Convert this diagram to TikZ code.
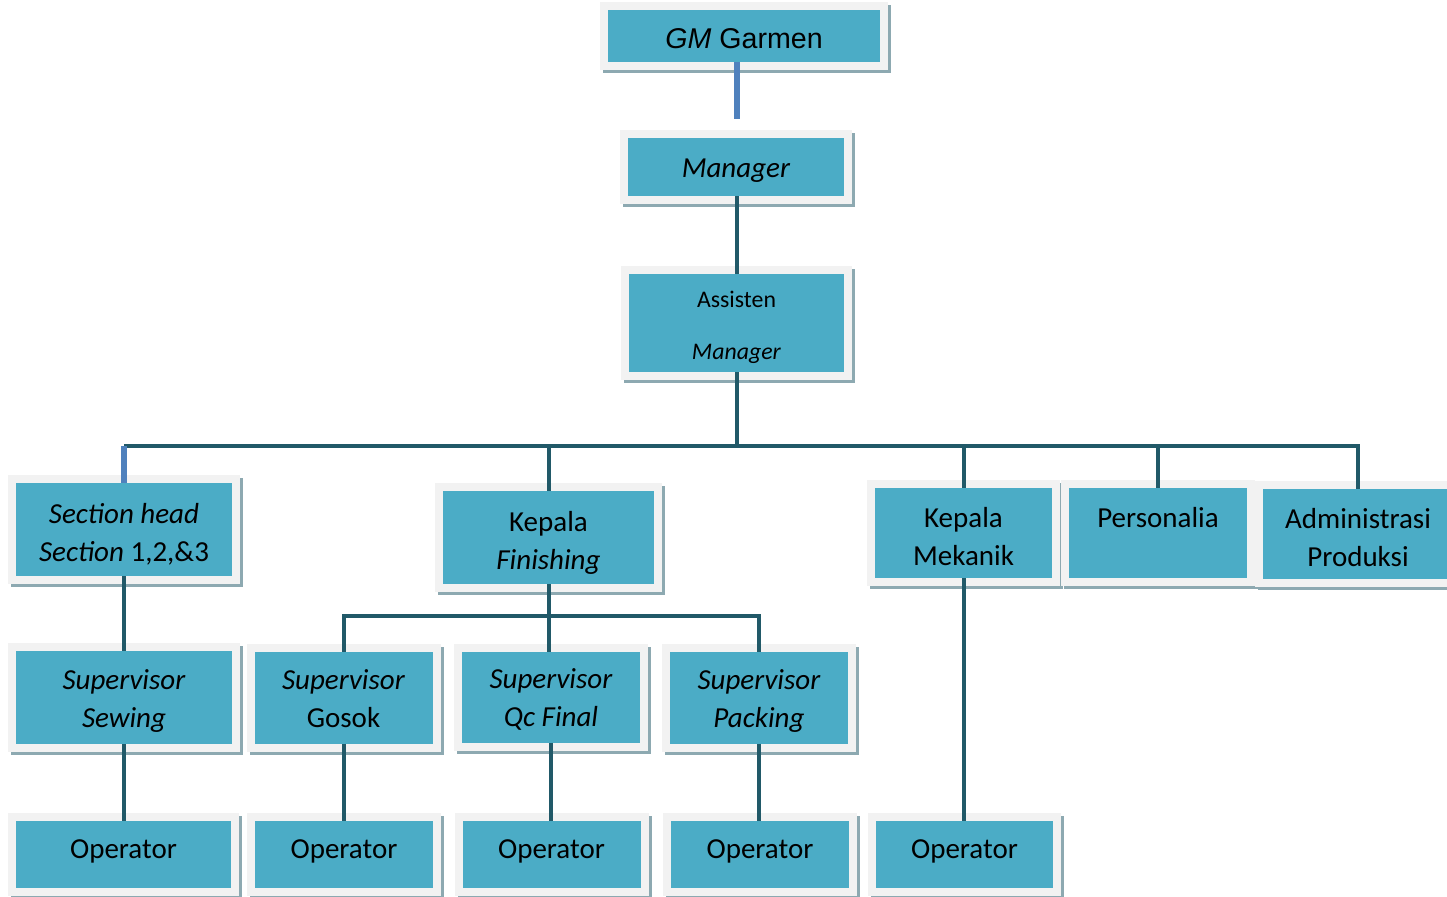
\documentclass[tikz,border=0pt]{standalone}
\usepackage{fontspec}
\setmainfont{Carlito}
\newfontfamily\arialfont{Liberation Sans}
\usepackage{tikz}
\usetikzlibrary{positioning, calc}
\definecolor{boxfill}{HTML}{4BACC6}
\definecolor{boxframe}{HTML}{F2F2F2}
\definecolor{boxshadow}{HTML}{8DA9B1}
\definecolor{linkteal}{HTML}{215968}
\definecolor{linkblue}{HTML}{4F81BD}
\tikzset{
    unit/.style 2 args={draw=boxframe, fill=boxfill, line width=4pt,
      minimum width=#1, minimum height=#2, inner sep=0pt, outer sep=-2pt,
      align=center, font=\fontsize{14.5}{19}\selectfont,
      preaction={draw=boxshadow, fill=boxshadow, transform canvas={shift={(1.5pt,-1.5pt)}}}},
    tx/.style 2 args={text height=#1, text depth=#2},
    link/.style={draw=linkteal, line width=2pt},
    bluelink/.style={draw=linkblue, line width=3pt},
}

\begin{document}
\begin{tikzpicture}[x=0.5pt, y=-0.5pt]
    \useasboundingbox (0,0) rectangle (1447,896);

    \node[unit={140pt}{30pt}, tx={12.2pt}{0pt}, font=\arialfont\fontsize{14.3}{17}\selectfont] (gm) at (744,36) {\textit{GM} Garmen};
    \node[unit={112pt}{33pt}, tx={13.6pt}{3.5pt}] (mgr) at (736,167) {\textit{Manager}};
    \node[unit={111.5pt}{53pt}, tx={39.5pt}{2.8pt}, font=\fontsize{11.9}{26}\selectfont] (asst) at (736.5,323) {Assisten\\\textit{Manager}};

    \node[unit={112pt}{50.5pt}, tx={32pt}{0pt}] (sec) at (124,529.5) {\textit{Section head}\\\textit{Section} 1,2,\&3};
    \node[unit={109.5pt}{50.5pt}, tx={32pt}{0pt}] (kfin) at (548.5,537.5) {Kepala\\\textit{Finishing}};
    \node[unit={92.5pt}{49pt}, tx={32pt}{0pt}] (kmek) at (963.5,533) {Kepala\\Mekanik};
    \node[unit={93pt}{49pt}, tx={32pt}{0pt}] (pers) at (1158,533) {Personalia\\\phantom{X}};
    \node[unit={99pt}{49pt}, tx={32pt}{0pt}] (adm) at (1358,534) {Administrasi\\Produksi};

    \node[unit={112pt}{50.5pt}, tx={32pt}{2.4pt}] (sws) at (124,697.5) {\textit{Supervisor}\\\textit{Sewing}};
    \node[unit={93pt}{50pt}, tx={32pt}{2.4pt}] (sgo) at (343.5,697.5) {\textit{Supervisor}\\Gosok};
    \node[unit={93pt}{49.5pt}, tx={32pt}{2.4pt}] (sqc) at (551,697) {\textit{Supervisor}\\\textit{Qc Final}};
    \node[unit={93pt}{50pt}, tx={32pt}{2.4pt}] (spk) at (759,697.5) {\textit{Supervisor}\\\textit{Packing}};

    \node[unit={111.5pt}{37.5pt}, tx={9pt}{4.7pt}] (op1) at (123.5,854.5) {Operator};
    \node[unit={93pt}{37.5pt}, tx={9pt}{4.7pt}] (op2) at (344,854.5) {Operator};
    \node[unit={93pt}{37.5pt}, tx={9pt}{4.7pt}] (op3) at (551.5,854.5) {Operator};
    \node[unit={93pt}{37.5pt}, tx={9pt}{4.7pt}] (op4) at (760,854.5) {Operator};
    \node[unit={92.5pt}{37.5pt}, tx={9pt}{4.7pt}] (op5) at (964.5,854.5) {Operator};

    \coordinate (gmend) at (737,119);
    \coordinate (bus) at (737,446);
    \coordinate (bus2) at (549,616);

    \draw[bluelink] (gm.south -| gmend) -- (gmend);
    \draw[link] (mgr.south -| gmend) -- (asst.north -| gmend);
    \draw[link] (asst.south -| bus) -- (bus);
    \draw[link] (sec.north |- bus) -- (adm.north |- bus) -- (adm.north);
    \draw[bluelink] (bus -| sec.north) -- (sec.north);
    \draw[link] (bus -| kfin.north) -- (kfin.north);
    \draw[link] (bus -| kmek.north) -- (kmek.north);
    \draw[link] (bus -| pers.north) -- (pers.north);

    \draw[link] (sec.south) -- (sws.north);
    \draw[link] (kfin.south) -- (kfin.south |- sqc.north);
    \draw[link] (sgo.north) -- (sgo.north |- bus2) -- (spk.north |- bus2) -- (spk.north);
    \draw[link] (kmek.south) -- (kmek.south |- op5.north);

    \draw[link] (sws.south) -- (sws.south |- op1.north);
    \draw[link] (sgo.south) -- (sgo.south |- op2.north);
    \draw[link] (sqc.south) -- (sqc.south |- op3.north);
    \draw[link] (spk.south) -- (spk.south |- op4.north);
\end{tikzpicture}
\end{document}
